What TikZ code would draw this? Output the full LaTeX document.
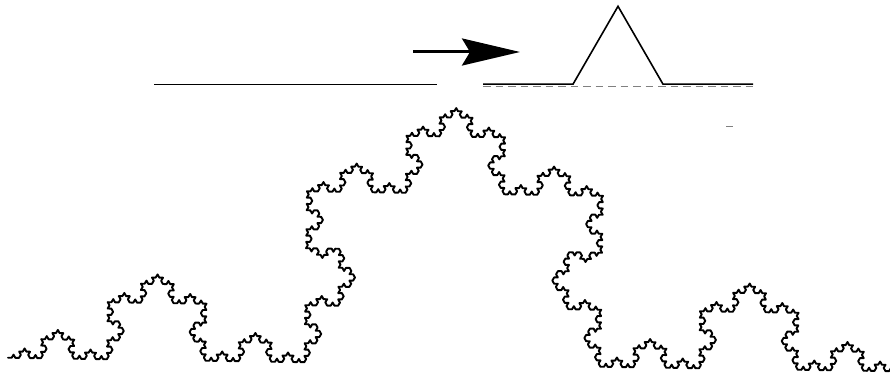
\documentclass[tikz,border=0pt]{standalone}
\usetikzlibrary{arrows.meta,lindenmayersystems}
\pgfdeclarelindenmayersystem{Koch}{\rule{F -> F+F--F+F}}
\tikzset{
  thickline/.style={line width=1.6pt, line join=miter},
  dashline/.style={line width=1.3pt, gray, dash pattern=on 7.5pt off 5pt},
  bigarrow/.style={line width=3pt, -{Stealth[length=58pt, width=27pt, inset=8pt]}},
  kochline/.style={line width=1.9pt, line join=round, line cap=round}
}
\begin{document}
\begin{tikzpicture}[x=1pt,y=1pt]
\useasboundingbox (0,0) rectangle (890,375);
% coordinates (y = 375 - pixel y)
\coordinate (L1) at (154,290.6);
\coordinate (L2) at (437,290.6);
\coordinate (A1) at (413,323);
\coordinate (A2) at (520,323);
\coordinate (G0) at (483,290.8);
\coordinate (G1) at (573,290.8);
\coordinate (G2) at (618,368.7);
\coordinate (G3) at (663,290.8);
\coordinate (G4) at (753,290.8);
\coordinate (D0) at (483,288.7);
\coordinate (D1) at (753,288.7);
\coordinate (T0) at (726,248.3);
\coordinate (T1) at (733,248.3);
% initial segment
\draw[thickline] (L1) -- (L2);
% arrow
\draw[bigarrow] (A1) -- (A2);
% generator
\draw[dashline] (D0) -- (D1);
\draw[thickline] (G0) -- (G1) -- (G2) -- (G3) -- (G4);
% small tick
\draw[line width=1.5pt, gray] (T0) -- (T1);
% Koch curve
\begin{scope}[shift={(8,17.3)}, rotate=-0.9]
\draw[kochline, l-system={Koch, axiom=F, order=5, step=3.6626pt, angle=60}] (0,0) lindenmayer system;
\end{scope}
\end{tikzpicture}
\end{document}
